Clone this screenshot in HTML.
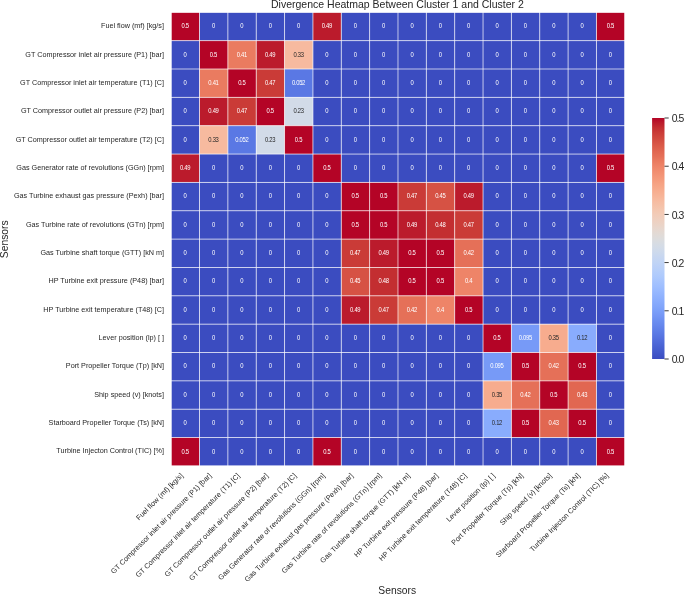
<!DOCTYPE html><html><head><meta charset="utf-8"><style>
html,body{margin:0;padding:0;background:#fff;}
body{width:685px;height:595px;overflow:hidden;position:relative;}
svg{position:absolute;left:0;top:0;will-change:transform;filter:blur(0.3px);}
text{font-family:"Liberation Sans",sans-serif;}
</style></head><body>
<svg width="685" height="595" viewBox="0 0 685 595">
<defs><linearGradient id="cb" x1="0" y1="1" x2="0" y2="0">
<stop offset="0.000" stop-color="#3b4cc0"/>
<stop offset="0.020" stop-color="#4055c8"/>
<stop offset="0.040" stop-color="#465ecf"/>
<stop offset="0.060" stop-color="#4c66d6"/>
<stop offset="0.080" stop-color="#536edd"/>
<stop offset="0.100" stop-color="#5977e3"/>
<stop offset="0.120" stop-color="#5f7fe8"/>
<stop offset="0.140" stop-color="#6687ed"/>
<stop offset="0.160" stop-color="#6c8ff1"/>
<stop offset="0.180" stop-color="#7597f6"/>
<stop offset="0.200" stop-color="#7b9ff9"/>
<stop offset="0.220" stop-color="#82a6fb"/>
<stop offset="0.240" stop-color="#89acfd"/>
<stop offset="0.260" stop-color="#90b2fe"/>
<stop offset="0.280" stop-color="#97b8ff"/>
<stop offset="0.300" stop-color="#9ebeff"/>
<stop offset="0.320" stop-color="#a5c3fe"/>
<stop offset="0.340" stop-color="#adc9fd"/>
<stop offset="0.360" stop-color="#b3cdfb"/>
<stop offset="0.380" stop-color="#bad0f8"/>
<stop offset="0.400" stop-color="#c0d4f5"/>
<stop offset="0.420" stop-color="#c6d6f1"/>
<stop offset="0.440" stop-color="#ccd9ed"/>
<stop offset="0.460" stop-color="#d2dbe8"/>
<stop offset="0.480" stop-color="#d7dce3"/>
<stop offset="0.500" stop-color="#dddcdc"/>
<stop offset="0.520" stop-color="#e2dad5"/>
<stop offset="0.540" stop-color="#e7d7ce"/>
<stop offset="0.560" stop-color="#ebd3c6"/>
<stop offset="0.580" stop-color="#efcfbf"/>
<stop offset="0.600" stop-color="#f2cbb7"/>
<stop offset="0.620" stop-color="#f4c6af"/>
<stop offset="0.640" stop-color="#f5c0a7"/>
<stop offset="0.660" stop-color="#f7ba9f"/>
<stop offset="0.680" stop-color="#f7b396"/>
<stop offset="0.700" stop-color="#f7ac8e"/>
<stop offset="0.720" stop-color="#f6a586"/>
<stop offset="0.740" stop-color="#f59d7e"/>
<stop offset="0.760" stop-color="#f39577"/>
<stop offset="0.780" stop-color="#f18d6f"/>
<stop offset="0.800" stop-color="#ee8468"/>
<stop offset="0.820" stop-color="#ea7b60"/>
<stop offset="0.840" stop-color="#e57058"/>
<stop offset="0.860" stop-color="#e16751"/>
<stop offset="0.880" stop-color="#dc5d4a"/>
<stop offset="0.900" stop-color="#d65244"/>
<stop offset="0.920" stop-color="#d0473d"/>
<stop offset="0.940" stop-color="#ca3b37"/>
<stop offset="0.960" stop-color="#c32e31"/>
<stop offset="0.980" stop-color="#bb1b2c"/>
<stop offset="1.000" stop-color="#b40426"/>
</linearGradient></defs>
<text x="397.40" y="7.90" font-size="10.50" fill="#262626" text-anchor="middle">Divergence Heatmap Between Cluster 1 and Cluster 2</text>
<rect x="171.18" y="12.30" width="28.37" height="28.37" fill="#b40426"/>
<rect x="199.53" y="12.30" width="28.37" height="28.37" fill="#3b4cc0"/>
<rect x="227.88" y="12.30" width="28.37" height="28.37" fill="#3b4cc0"/>
<rect x="256.23" y="12.30" width="28.37" height="28.37" fill="#3b4cc0"/>
<rect x="284.58" y="12.30" width="28.37" height="28.37" fill="#3b4cc0"/>
<rect x="312.93" y="12.30" width="28.37" height="28.37" fill="#bb1b2c"/>
<rect x="341.28" y="12.30" width="28.37" height="28.37" fill="#3b4cc0"/>
<rect x="369.63" y="12.30" width="28.37" height="28.37" fill="#3b4cc0"/>
<rect x="397.98" y="12.30" width="28.37" height="28.37" fill="#3b4cc0"/>
<rect x="426.33" y="12.30" width="28.37" height="28.37" fill="#3b4cc0"/>
<rect x="454.68" y="12.30" width="28.37" height="28.37" fill="#3b4cc0"/>
<rect x="483.03" y="12.30" width="28.37" height="28.37" fill="#3b4cc0"/>
<rect x="511.38" y="12.30" width="28.37" height="28.37" fill="#3b4cc0"/>
<rect x="539.73" y="12.30" width="28.37" height="28.37" fill="#3b4cc0"/>
<rect x="568.08" y="12.30" width="28.37" height="28.37" fill="#3b4cc0"/>
<rect x="596.43" y="12.30" width="28.37" height="28.37" fill="#b40426"/>
<rect x="171.18" y="40.65" width="28.37" height="28.37" fill="#3b4cc0"/>
<rect x="199.53" y="40.65" width="28.37" height="28.37" fill="#b40426"/>
<rect x="227.88" y="40.65" width="28.37" height="28.37" fill="#ea7b60"/>
<rect x="256.23" y="40.65" width="28.37" height="28.37" fill="#bb1b2c"/>
<rect x="284.58" y="40.65" width="28.37" height="28.37" fill="#f7ba9f"/>
<rect x="312.93" y="40.65" width="28.37" height="28.37" fill="#3b4cc0"/>
<rect x="341.28" y="40.65" width="28.37" height="28.37" fill="#3b4cc0"/>
<rect x="369.63" y="40.65" width="28.37" height="28.37" fill="#3b4cc0"/>
<rect x="397.98" y="40.65" width="28.37" height="28.37" fill="#3b4cc0"/>
<rect x="426.33" y="40.65" width="28.37" height="28.37" fill="#3b4cc0"/>
<rect x="454.68" y="40.65" width="28.37" height="28.37" fill="#3b4cc0"/>
<rect x="483.03" y="40.65" width="28.37" height="28.37" fill="#3b4cc0"/>
<rect x="511.38" y="40.65" width="28.37" height="28.37" fill="#3b4cc0"/>
<rect x="539.73" y="40.65" width="28.37" height="28.37" fill="#3b4cc0"/>
<rect x="568.08" y="40.65" width="28.37" height="28.37" fill="#3b4cc0"/>
<rect x="596.43" y="40.65" width="28.37" height="28.37" fill="#3b4cc0"/>
<rect x="171.18" y="69.00" width="28.37" height="28.37" fill="#3b4cc0"/>
<rect x="199.53" y="69.00" width="28.37" height="28.37" fill="#ea7b60"/>
<rect x="227.88" y="69.00" width="28.37" height="28.37" fill="#b40426"/>
<rect x="256.23" y="69.00" width="28.37" height="28.37" fill="#ca3b37"/>
<rect x="284.58" y="69.00" width="28.37" height="28.37" fill="#5a78e4"/>
<rect x="312.93" y="69.00" width="28.37" height="28.37" fill="#3b4cc0"/>
<rect x="341.28" y="69.00" width="28.37" height="28.37" fill="#3b4cc0"/>
<rect x="369.63" y="69.00" width="28.37" height="28.37" fill="#3b4cc0"/>
<rect x="397.98" y="69.00" width="28.37" height="28.37" fill="#3b4cc0"/>
<rect x="426.33" y="69.00" width="28.37" height="28.37" fill="#3b4cc0"/>
<rect x="454.68" y="69.00" width="28.37" height="28.37" fill="#3b4cc0"/>
<rect x="483.03" y="69.00" width="28.37" height="28.37" fill="#3b4cc0"/>
<rect x="511.38" y="69.00" width="28.37" height="28.37" fill="#3b4cc0"/>
<rect x="539.73" y="69.00" width="28.37" height="28.37" fill="#3b4cc0"/>
<rect x="568.08" y="69.00" width="28.37" height="28.37" fill="#3b4cc0"/>
<rect x="596.43" y="69.00" width="28.37" height="28.37" fill="#3b4cc0"/>
<rect x="171.18" y="97.35" width="28.37" height="28.37" fill="#3b4cc0"/>
<rect x="199.53" y="97.35" width="28.37" height="28.37" fill="#bb1b2c"/>
<rect x="227.88" y="97.35" width="28.37" height="28.37" fill="#ca3b37"/>
<rect x="256.23" y="97.35" width="28.37" height="28.37" fill="#b40426"/>
<rect x="284.58" y="97.35" width="28.37" height="28.37" fill="#d2dbe8"/>
<rect x="312.93" y="97.35" width="28.37" height="28.37" fill="#3b4cc0"/>
<rect x="341.28" y="97.35" width="28.37" height="28.37" fill="#3b4cc0"/>
<rect x="369.63" y="97.35" width="28.37" height="28.37" fill="#3b4cc0"/>
<rect x="397.98" y="97.35" width="28.37" height="28.37" fill="#3b4cc0"/>
<rect x="426.33" y="97.35" width="28.37" height="28.37" fill="#3b4cc0"/>
<rect x="454.68" y="97.35" width="28.37" height="28.37" fill="#3b4cc0"/>
<rect x="483.03" y="97.35" width="28.37" height="28.37" fill="#3b4cc0"/>
<rect x="511.38" y="97.35" width="28.37" height="28.37" fill="#3b4cc0"/>
<rect x="539.73" y="97.35" width="28.37" height="28.37" fill="#3b4cc0"/>
<rect x="568.08" y="97.35" width="28.37" height="28.37" fill="#3b4cc0"/>
<rect x="596.43" y="97.35" width="28.37" height="28.37" fill="#3b4cc0"/>
<rect x="171.18" y="125.70" width="28.37" height="28.37" fill="#3b4cc0"/>
<rect x="199.53" y="125.70" width="28.37" height="28.37" fill="#f7ba9f"/>
<rect x="227.88" y="125.70" width="28.37" height="28.37" fill="#5a78e4"/>
<rect x="256.23" y="125.70" width="28.37" height="28.37" fill="#d2dbe8"/>
<rect x="284.58" y="125.70" width="28.37" height="28.37" fill="#b40426"/>
<rect x="312.93" y="125.70" width="28.37" height="28.37" fill="#3b4cc0"/>
<rect x="341.28" y="125.70" width="28.37" height="28.37" fill="#3b4cc0"/>
<rect x="369.63" y="125.70" width="28.37" height="28.37" fill="#3b4cc0"/>
<rect x="397.98" y="125.70" width="28.37" height="28.37" fill="#3b4cc0"/>
<rect x="426.33" y="125.70" width="28.37" height="28.37" fill="#3b4cc0"/>
<rect x="454.68" y="125.70" width="28.37" height="28.37" fill="#3b4cc0"/>
<rect x="483.03" y="125.70" width="28.37" height="28.37" fill="#3b4cc0"/>
<rect x="511.38" y="125.70" width="28.37" height="28.37" fill="#3b4cc0"/>
<rect x="539.73" y="125.70" width="28.37" height="28.37" fill="#3b4cc0"/>
<rect x="568.08" y="125.70" width="28.37" height="28.37" fill="#3b4cc0"/>
<rect x="596.43" y="125.70" width="28.37" height="28.37" fill="#3b4cc0"/>
<rect x="171.18" y="154.05" width="28.37" height="28.37" fill="#bb1b2c"/>
<rect x="199.53" y="154.05" width="28.37" height="28.37" fill="#3b4cc0"/>
<rect x="227.88" y="154.05" width="28.37" height="28.37" fill="#3b4cc0"/>
<rect x="256.23" y="154.05" width="28.37" height="28.37" fill="#3b4cc0"/>
<rect x="284.58" y="154.05" width="28.37" height="28.37" fill="#3b4cc0"/>
<rect x="312.93" y="154.05" width="28.37" height="28.37" fill="#b40426"/>
<rect x="341.28" y="154.05" width="28.37" height="28.37" fill="#3b4cc0"/>
<rect x="369.63" y="154.05" width="28.37" height="28.37" fill="#3b4cc0"/>
<rect x="397.98" y="154.05" width="28.37" height="28.37" fill="#3b4cc0"/>
<rect x="426.33" y="154.05" width="28.37" height="28.37" fill="#3b4cc0"/>
<rect x="454.68" y="154.05" width="28.37" height="28.37" fill="#3b4cc0"/>
<rect x="483.03" y="154.05" width="28.37" height="28.37" fill="#3b4cc0"/>
<rect x="511.38" y="154.05" width="28.37" height="28.37" fill="#3b4cc0"/>
<rect x="539.73" y="154.05" width="28.37" height="28.37" fill="#3b4cc0"/>
<rect x="568.08" y="154.05" width="28.37" height="28.37" fill="#3b4cc0"/>
<rect x="596.43" y="154.05" width="28.37" height="28.37" fill="#b40426"/>
<rect x="171.18" y="182.40" width="28.37" height="28.37" fill="#3b4cc0"/>
<rect x="199.53" y="182.40" width="28.37" height="28.37" fill="#3b4cc0"/>
<rect x="227.88" y="182.40" width="28.37" height="28.37" fill="#3b4cc0"/>
<rect x="256.23" y="182.40" width="28.37" height="28.37" fill="#3b4cc0"/>
<rect x="284.58" y="182.40" width="28.37" height="28.37" fill="#3b4cc0"/>
<rect x="312.93" y="182.40" width="28.37" height="28.37" fill="#3b4cc0"/>
<rect x="341.28" y="182.40" width="28.37" height="28.37" fill="#b40426"/>
<rect x="369.63" y="182.40" width="28.37" height="28.37" fill="#b40426"/>
<rect x="397.98" y="182.40" width="28.37" height="28.37" fill="#ca3b37"/>
<rect x="426.33" y="182.40" width="28.37" height="28.37" fill="#d65244"/>
<rect x="454.68" y="182.40" width="28.37" height="28.37" fill="#bb1b2c"/>
<rect x="483.03" y="182.40" width="28.37" height="28.37" fill="#3b4cc0"/>
<rect x="511.38" y="182.40" width="28.37" height="28.37" fill="#3b4cc0"/>
<rect x="539.73" y="182.40" width="28.37" height="28.37" fill="#3b4cc0"/>
<rect x="568.08" y="182.40" width="28.37" height="28.37" fill="#3b4cc0"/>
<rect x="596.43" y="182.40" width="28.37" height="28.37" fill="#3b4cc0"/>
<rect x="171.18" y="210.75" width="28.37" height="28.37" fill="#3b4cc0"/>
<rect x="199.53" y="210.75" width="28.37" height="28.37" fill="#3b4cc0"/>
<rect x="227.88" y="210.75" width="28.37" height="28.37" fill="#3b4cc0"/>
<rect x="256.23" y="210.75" width="28.37" height="28.37" fill="#3b4cc0"/>
<rect x="284.58" y="210.75" width="28.37" height="28.37" fill="#3b4cc0"/>
<rect x="312.93" y="210.75" width="28.37" height="28.37" fill="#3b4cc0"/>
<rect x="341.28" y="210.75" width="28.37" height="28.37" fill="#b40426"/>
<rect x="369.63" y="210.75" width="28.37" height="28.37" fill="#b40426"/>
<rect x="397.98" y="210.75" width="28.37" height="28.37" fill="#bb1b2c"/>
<rect x="426.33" y="210.75" width="28.37" height="28.37" fill="#c32e31"/>
<rect x="454.68" y="210.75" width="28.37" height="28.37" fill="#ca3b37"/>
<rect x="483.03" y="210.75" width="28.37" height="28.37" fill="#3b4cc0"/>
<rect x="511.38" y="210.75" width="28.37" height="28.37" fill="#3b4cc0"/>
<rect x="539.73" y="210.75" width="28.37" height="28.37" fill="#3b4cc0"/>
<rect x="568.08" y="210.75" width="28.37" height="28.37" fill="#3b4cc0"/>
<rect x="596.43" y="210.75" width="28.37" height="28.37" fill="#3b4cc0"/>
<rect x="171.18" y="239.10" width="28.37" height="28.37" fill="#3b4cc0"/>
<rect x="199.53" y="239.10" width="28.37" height="28.37" fill="#3b4cc0"/>
<rect x="227.88" y="239.10" width="28.37" height="28.37" fill="#3b4cc0"/>
<rect x="256.23" y="239.10" width="28.37" height="28.37" fill="#3b4cc0"/>
<rect x="284.58" y="239.10" width="28.37" height="28.37" fill="#3b4cc0"/>
<rect x="312.93" y="239.10" width="28.37" height="28.37" fill="#3b4cc0"/>
<rect x="341.28" y="239.10" width="28.37" height="28.37" fill="#ca3b37"/>
<rect x="369.63" y="239.10" width="28.37" height="28.37" fill="#bb1b2c"/>
<rect x="397.98" y="239.10" width="28.37" height="28.37" fill="#b40426"/>
<rect x="426.33" y="239.10" width="28.37" height="28.37" fill="#b40426"/>
<rect x="454.68" y="239.10" width="28.37" height="28.37" fill="#e57058"/>
<rect x="483.03" y="239.10" width="28.37" height="28.37" fill="#3b4cc0"/>
<rect x="511.38" y="239.10" width="28.37" height="28.37" fill="#3b4cc0"/>
<rect x="539.73" y="239.10" width="28.37" height="28.37" fill="#3b4cc0"/>
<rect x="568.08" y="239.10" width="28.37" height="28.37" fill="#3b4cc0"/>
<rect x="596.43" y="239.10" width="28.37" height="28.37" fill="#3b4cc0"/>
<rect x="171.18" y="267.45" width="28.37" height="28.37" fill="#3b4cc0"/>
<rect x="199.53" y="267.45" width="28.37" height="28.37" fill="#3b4cc0"/>
<rect x="227.88" y="267.45" width="28.37" height="28.37" fill="#3b4cc0"/>
<rect x="256.23" y="267.45" width="28.37" height="28.37" fill="#3b4cc0"/>
<rect x="284.58" y="267.45" width="28.37" height="28.37" fill="#3b4cc0"/>
<rect x="312.93" y="267.45" width="28.37" height="28.37" fill="#3b4cc0"/>
<rect x="341.28" y="267.45" width="28.37" height="28.37" fill="#d65244"/>
<rect x="369.63" y="267.45" width="28.37" height="28.37" fill="#c32e31"/>
<rect x="397.98" y="267.45" width="28.37" height="28.37" fill="#b40426"/>
<rect x="426.33" y="267.45" width="28.37" height="28.37" fill="#b40426"/>
<rect x="454.68" y="267.45" width="28.37" height="28.37" fill="#ee8468"/>
<rect x="483.03" y="267.45" width="28.37" height="28.37" fill="#3b4cc0"/>
<rect x="511.38" y="267.45" width="28.37" height="28.37" fill="#3b4cc0"/>
<rect x="539.73" y="267.45" width="28.37" height="28.37" fill="#3b4cc0"/>
<rect x="568.08" y="267.45" width="28.37" height="28.37" fill="#3b4cc0"/>
<rect x="596.43" y="267.45" width="28.37" height="28.37" fill="#3b4cc0"/>
<rect x="171.18" y="295.80" width="28.37" height="28.37" fill="#3b4cc0"/>
<rect x="199.53" y="295.80" width="28.37" height="28.37" fill="#3b4cc0"/>
<rect x="227.88" y="295.80" width="28.37" height="28.37" fill="#3b4cc0"/>
<rect x="256.23" y="295.80" width="28.37" height="28.37" fill="#3b4cc0"/>
<rect x="284.58" y="295.80" width="28.37" height="28.37" fill="#3b4cc0"/>
<rect x="312.93" y="295.80" width="28.37" height="28.37" fill="#3b4cc0"/>
<rect x="341.28" y="295.80" width="28.37" height="28.37" fill="#bb1b2c"/>
<rect x="369.63" y="295.80" width="28.37" height="28.37" fill="#ca3b37"/>
<rect x="397.98" y="295.80" width="28.37" height="28.37" fill="#e57058"/>
<rect x="426.33" y="295.80" width="28.37" height="28.37" fill="#ee8468"/>
<rect x="454.68" y="295.80" width="28.37" height="28.37" fill="#b40426"/>
<rect x="483.03" y="295.80" width="28.37" height="28.37" fill="#3b4cc0"/>
<rect x="511.38" y="295.80" width="28.37" height="28.37" fill="#3b4cc0"/>
<rect x="539.73" y="295.80" width="28.37" height="28.37" fill="#3b4cc0"/>
<rect x="568.08" y="295.80" width="28.37" height="28.37" fill="#3b4cc0"/>
<rect x="596.43" y="295.80" width="28.37" height="28.37" fill="#3b4cc0"/>
<rect x="171.18" y="324.15" width="28.37" height="28.37" fill="#3b4cc0"/>
<rect x="199.53" y="324.15" width="28.37" height="28.37" fill="#3b4cc0"/>
<rect x="227.88" y="324.15" width="28.37" height="28.37" fill="#3b4cc0"/>
<rect x="256.23" y="324.15" width="28.37" height="28.37" fill="#3b4cc0"/>
<rect x="284.58" y="324.15" width="28.37" height="28.37" fill="#3b4cc0"/>
<rect x="312.93" y="324.15" width="28.37" height="28.37" fill="#3b4cc0"/>
<rect x="341.28" y="324.15" width="28.37" height="28.37" fill="#3b4cc0"/>
<rect x="369.63" y="324.15" width="28.37" height="28.37" fill="#3b4cc0"/>
<rect x="397.98" y="324.15" width="28.37" height="28.37" fill="#3b4cc0"/>
<rect x="426.33" y="324.15" width="28.37" height="28.37" fill="#3b4cc0"/>
<rect x="454.68" y="324.15" width="28.37" height="28.37" fill="#3b4cc0"/>
<rect x="483.03" y="324.15" width="28.37" height="28.37" fill="#b40426"/>
<rect x="511.38" y="324.15" width="28.37" height="28.37" fill="#779af7"/>
<rect x="539.73" y="324.15" width="28.37" height="28.37" fill="#f7ac8e"/>
<rect x="568.08" y="324.15" width="28.37" height="28.37" fill="#89acfd"/>
<rect x="596.43" y="324.15" width="28.37" height="28.37" fill="#3b4cc0"/>
<rect x="171.18" y="352.50" width="28.37" height="28.37" fill="#3b4cc0"/>
<rect x="199.53" y="352.50" width="28.37" height="28.37" fill="#3b4cc0"/>
<rect x="227.88" y="352.50" width="28.37" height="28.37" fill="#3b4cc0"/>
<rect x="256.23" y="352.50" width="28.37" height="28.37" fill="#3b4cc0"/>
<rect x="284.58" y="352.50" width="28.37" height="28.37" fill="#3b4cc0"/>
<rect x="312.93" y="352.50" width="28.37" height="28.37" fill="#3b4cc0"/>
<rect x="341.28" y="352.50" width="28.37" height="28.37" fill="#3b4cc0"/>
<rect x="369.63" y="352.50" width="28.37" height="28.37" fill="#3b4cc0"/>
<rect x="397.98" y="352.50" width="28.37" height="28.37" fill="#3b4cc0"/>
<rect x="426.33" y="352.50" width="28.37" height="28.37" fill="#3b4cc0"/>
<rect x="454.68" y="352.50" width="28.37" height="28.37" fill="#3b4cc0"/>
<rect x="483.03" y="352.50" width="28.37" height="28.37" fill="#779af7"/>
<rect x="511.38" y="352.50" width="28.37" height="28.37" fill="#b40426"/>
<rect x="539.73" y="352.50" width="28.37" height="28.37" fill="#e57058"/>
<rect x="568.08" y="352.50" width="28.37" height="28.37" fill="#b40426"/>
<rect x="596.43" y="352.50" width="28.37" height="28.37" fill="#3b4cc0"/>
<rect x="171.18" y="380.85" width="28.37" height="28.37" fill="#3b4cc0"/>
<rect x="199.53" y="380.85" width="28.37" height="28.37" fill="#3b4cc0"/>
<rect x="227.88" y="380.85" width="28.37" height="28.37" fill="#3b4cc0"/>
<rect x="256.23" y="380.85" width="28.37" height="28.37" fill="#3b4cc0"/>
<rect x="284.58" y="380.85" width="28.37" height="28.37" fill="#3b4cc0"/>
<rect x="312.93" y="380.85" width="28.37" height="28.37" fill="#3b4cc0"/>
<rect x="341.28" y="380.85" width="28.37" height="28.37" fill="#3b4cc0"/>
<rect x="369.63" y="380.85" width="28.37" height="28.37" fill="#3b4cc0"/>
<rect x="397.98" y="380.85" width="28.37" height="28.37" fill="#3b4cc0"/>
<rect x="426.33" y="380.85" width="28.37" height="28.37" fill="#3b4cc0"/>
<rect x="454.68" y="380.85" width="28.37" height="28.37" fill="#3b4cc0"/>
<rect x="483.03" y="380.85" width="28.37" height="28.37" fill="#f7ac8e"/>
<rect x="511.38" y="380.85" width="28.37" height="28.37" fill="#e57058"/>
<rect x="539.73" y="380.85" width="28.37" height="28.37" fill="#b40426"/>
<rect x="568.08" y="380.85" width="28.37" height="28.37" fill="#e16751"/>
<rect x="596.43" y="380.85" width="28.37" height="28.37" fill="#3b4cc0"/>
<rect x="171.18" y="409.20" width="28.37" height="28.37" fill="#3b4cc0"/>
<rect x="199.53" y="409.20" width="28.37" height="28.37" fill="#3b4cc0"/>
<rect x="227.88" y="409.20" width="28.37" height="28.37" fill="#3b4cc0"/>
<rect x="256.23" y="409.20" width="28.37" height="28.37" fill="#3b4cc0"/>
<rect x="284.58" y="409.20" width="28.37" height="28.37" fill="#3b4cc0"/>
<rect x="312.93" y="409.20" width="28.37" height="28.37" fill="#3b4cc0"/>
<rect x="341.28" y="409.20" width="28.37" height="28.37" fill="#3b4cc0"/>
<rect x="369.63" y="409.20" width="28.37" height="28.37" fill="#3b4cc0"/>
<rect x="397.98" y="409.20" width="28.37" height="28.37" fill="#3b4cc0"/>
<rect x="426.33" y="409.20" width="28.37" height="28.37" fill="#3b4cc0"/>
<rect x="454.68" y="409.20" width="28.37" height="28.37" fill="#3b4cc0"/>
<rect x="483.03" y="409.20" width="28.37" height="28.37" fill="#89acfd"/>
<rect x="511.38" y="409.20" width="28.37" height="28.37" fill="#b40426"/>
<rect x="539.73" y="409.20" width="28.37" height="28.37" fill="#e16751"/>
<rect x="568.08" y="409.20" width="28.37" height="28.37" fill="#b40426"/>
<rect x="596.43" y="409.20" width="28.37" height="28.37" fill="#3b4cc0"/>
<rect x="171.18" y="437.55" width="28.37" height="28.37" fill="#b40426"/>
<rect x="199.53" y="437.55" width="28.37" height="28.37" fill="#3b4cc0"/>
<rect x="227.88" y="437.55" width="28.37" height="28.37" fill="#3b4cc0"/>
<rect x="256.23" y="437.55" width="28.37" height="28.37" fill="#3b4cc0"/>
<rect x="284.58" y="437.55" width="28.37" height="28.37" fill="#3b4cc0"/>
<rect x="312.93" y="437.55" width="28.37" height="28.37" fill="#b40426"/>
<rect x="341.28" y="437.55" width="28.37" height="28.37" fill="#3b4cc0"/>
<rect x="369.63" y="437.55" width="28.37" height="28.37" fill="#3b4cc0"/>
<rect x="397.98" y="437.55" width="28.37" height="28.37" fill="#3b4cc0"/>
<rect x="426.33" y="437.55" width="28.37" height="28.37" fill="#3b4cc0"/>
<rect x="454.68" y="437.55" width="28.37" height="28.37" fill="#3b4cc0"/>
<rect x="483.03" y="437.55" width="28.37" height="28.37" fill="#3b4cc0"/>
<rect x="511.38" y="437.55" width="28.37" height="28.37" fill="#3b4cc0"/>
<rect x="539.73" y="437.55" width="28.37" height="28.37" fill="#3b4cc0"/>
<rect x="568.08" y="437.55" width="28.37" height="28.37" fill="#3b4cc0"/>
<rect x="596.43" y="437.55" width="28.37" height="28.37" fill="#b40426"/>
<rect x="170.73" y="11.85" width="0.90" height="454.50" fill="#fff" fill-opacity="1.00"/>
<rect x="199.08" y="11.85" width="0.90" height="454.50" fill="#fff" fill-opacity="0.75"/>
<rect x="227.43" y="11.85" width="0.90" height="454.50" fill="#fff" fill-opacity="0.75"/>
<rect x="255.78" y="11.85" width="0.90" height="454.50" fill="#fff" fill-opacity="0.75"/>
<rect x="284.13" y="11.85" width="0.90" height="454.50" fill="#fff" fill-opacity="0.75"/>
<rect x="312.48" y="11.85" width="0.90" height="454.50" fill="#fff" fill-opacity="0.75"/>
<rect x="340.83" y="11.85" width="0.90" height="454.50" fill="#fff" fill-opacity="0.75"/>
<rect x="369.18" y="11.85" width="0.90" height="454.50" fill="#fff" fill-opacity="0.75"/>
<rect x="397.53" y="11.85" width="0.90" height="454.50" fill="#fff" fill-opacity="0.75"/>
<rect x="425.88" y="11.85" width="0.90" height="454.50" fill="#fff" fill-opacity="0.75"/>
<rect x="454.23" y="11.85" width="0.90" height="454.50" fill="#fff" fill-opacity="0.75"/>
<rect x="482.58" y="11.85" width="0.90" height="454.50" fill="#fff" fill-opacity="0.75"/>
<rect x="510.93" y="11.85" width="0.90" height="454.50" fill="#fff" fill-opacity="0.75"/>
<rect x="539.28" y="11.85" width="0.90" height="454.50" fill="#fff" fill-opacity="0.75"/>
<rect x="567.63" y="11.85" width="0.90" height="454.50" fill="#fff" fill-opacity="0.75"/>
<rect x="595.98" y="11.85" width="0.90" height="454.50" fill="#fff" fill-opacity="0.75"/>
<rect x="624.33" y="11.85" width="0.90" height="454.50" fill="#fff" fill-opacity="1.00"/>
<rect x="170.73" y="11.85" width="454.50" height="0.90" fill="#fff" fill-opacity="1.00"/>
<rect x="170.73" y="40.20" width="454.50" height="0.90" fill="#fff" fill-opacity="0.75"/>
<rect x="170.73" y="68.55" width="454.50" height="0.90" fill="#fff" fill-opacity="0.75"/>
<rect x="170.73" y="96.90" width="454.50" height="0.90" fill="#fff" fill-opacity="0.75"/>
<rect x="170.73" y="125.25" width="454.50" height="0.90" fill="#fff" fill-opacity="0.75"/>
<rect x="170.73" y="153.60" width="454.50" height="0.90" fill="#fff" fill-opacity="0.75"/>
<rect x="170.73" y="181.95" width="454.50" height="0.90" fill="#fff" fill-opacity="0.75"/>
<rect x="170.73" y="210.30" width="454.50" height="0.90" fill="#fff" fill-opacity="0.75"/>
<rect x="170.73" y="238.65" width="454.50" height="0.90" fill="#fff" fill-opacity="0.75"/>
<rect x="170.73" y="267.00" width="454.50" height="0.90" fill="#fff" fill-opacity="0.75"/>
<rect x="170.73" y="295.35" width="454.50" height="0.90" fill="#fff" fill-opacity="0.75"/>
<rect x="170.73" y="323.70" width="454.50" height="0.90" fill="#fff" fill-opacity="0.75"/>
<rect x="170.73" y="352.05" width="454.50" height="0.90" fill="#fff" fill-opacity="0.75"/>
<rect x="170.73" y="380.40" width="454.50" height="0.90" fill="#fff" fill-opacity="0.75"/>
<rect x="170.73" y="408.75" width="454.50" height="0.90" fill="#fff" fill-opacity="0.75"/>
<rect x="170.73" y="437.10" width="454.50" height="0.90" fill="#fff" fill-opacity="0.75"/>
<rect x="170.73" y="465.45" width="454.50" height="0.90" fill="#fff" fill-opacity="1.00"/>
<text transform="translate(185.09 28.28) scale(0.8400 1)" font-size="7.00" fill="#ffffff" text-anchor="middle" letter-spacing="-0.36">0.5</text>
<text transform="translate(213.44 28.28) scale(0.8400 1)" font-size="7.00" fill="#ffffff" text-anchor="middle" letter-spacing="-0.36">0</text>
<text transform="translate(241.78 28.28) scale(0.8400 1)" font-size="7.00" fill="#ffffff" text-anchor="middle" letter-spacing="-0.36">0</text>
<text transform="translate(270.14 28.28) scale(0.8400 1)" font-size="7.00" fill="#ffffff" text-anchor="middle" letter-spacing="-0.36">0</text>
<text transform="translate(298.49 28.28) scale(0.8400 1)" font-size="7.00" fill="#ffffff" text-anchor="middle" letter-spacing="-0.36">0</text>
<text transform="translate(326.84 28.28) scale(0.8400 1)" font-size="7.00" fill="#ffffff" text-anchor="middle" letter-spacing="-0.36">0.49</text>
<text transform="translate(355.19 28.28) scale(0.8400 1)" font-size="7.00" fill="#ffffff" text-anchor="middle" letter-spacing="-0.36">0</text>
<text transform="translate(383.54 28.28) scale(0.8400 1)" font-size="7.00" fill="#ffffff" text-anchor="middle" letter-spacing="-0.36">0</text>
<text transform="translate(411.89 28.28) scale(0.8400 1)" font-size="7.00" fill="#ffffff" text-anchor="middle" letter-spacing="-0.36">0</text>
<text transform="translate(440.24 28.28) scale(0.8400 1)" font-size="7.00" fill="#ffffff" text-anchor="middle" letter-spacing="-0.36">0</text>
<text transform="translate(468.59 28.28) scale(0.8400 1)" font-size="7.00" fill="#ffffff" text-anchor="middle" letter-spacing="-0.36">0</text>
<text transform="translate(496.94 28.28) scale(0.8400 1)" font-size="7.00" fill="#ffffff" text-anchor="middle" letter-spacing="-0.36">0</text>
<text transform="translate(525.29 28.28) scale(0.8400 1)" font-size="7.00" fill="#ffffff" text-anchor="middle" letter-spacing="-0.36">0</text>
<text transform="translate(553.63 28.28) scale(0.8400 1)" font-size="7.00" fill="#ffffff" text-anchor="middle" letter-spacing="-0.36">0</text>
<text transform="translate(581.99 28.28) scale(0.8400 1)" font-size="7.00" fill="#ffffff" text-anchor="middle" letter-spacing="-0.36">0</text>
<text transform="translate(610.34 28.28) scale(0.8400 1)" font-size="7.00" fill="#ffffff" text-anchor="middle" letter-spacing="-0.36">0.5</text>
<text transform="translate(185.09 56.63) scale(0.8400 1)" font-size="7.00" fill="#ffffff" text-anchor="middle" letter-spacing="-0.36">0</text>
<text transform="translate(213.44 56.63) scale(0.8400 1)" font-size="7.00" fill="#ffffff" text-anchor="middle" letter-spacing="-0.36">0.5</text>
<text transform="translate(241.78 56.63) scale(0.8400 1)" font-size="7.00" fill="#ffffff" text-anchor="middle" letter-spacing="-0.36">0.41</text>
<text transform="translate(270.14 56.63) scale(0.8400 1)" font-size="7.00" fill="#ffffff" text-anchor="middle" letter-spacing="-0.36">0.49</text>
<text transform="translate(298.49 56.63) scale(0.8400 1)" font-size="7.00" fill="#262626" text-anchor="middle" letter-spacing="-0.36">0.33</text>
<text transform="translate(326.84 56.63) scale(0.8400 1)" font-size="7.00" fill="#ffffff" text-anchor="middle" letter-spacing="-0.36">0</text>
<text transform="translate(355.19 56.63) scale(0.8400 1)" font-size="7.00" fill="#ffffff" text-anchor="middle" letter-spacing="-0.36">0</text>
<text transform="translate(383.54 56.63) scale(0.8400 1)" font-size="7.00" fill="#ffffff" text-anchor="middle" letter-spacing="-0.36">0</text>
<text transform="translate(411.89 56.63) scale(0.8400 1)" font-size="7.00" fill="#ffffff" text-anchor="middle" letter-spacing="-0.36">0</text>
<text transform="translate(440.24 56.63) scale(0.8400 1)" font-size="7.00" fill="#ffffff" text-anchor="middle" letter-spacing="-0.36">0</text>
<text transform="translate(468.59 56.63) scale(0.8400 1)" font-size="7.00" fill="#ffffff" text-anchor="middle" letter-spacing="-0.36">0</text>
<text transform="translate(496.94 56.63) scale(0.8400 1)" font-size="7.00" fill="#ffffff" text-anchor="middle" letter-spacing="-0.36">0</text>
<text transform="translate(525.29 56.63) scale(0.8400 1)" font-size="7.00" fill="#ffffff" text-anchor="middle" letter-spacing="-0.36">0</text>
<text transform="translate(553.63 56.63) scale(0.8400 1)" font-size="7.00" fill="#ffffff" text-anchor="middle" letter-spacing="-0.36">0</text>
<text transform="translate(581.99 56.63) scale(0.8400 1)" font-size="7.00" fill="#ffffff" text-anchor="middle" letter-spacing="-0.36">0</text>
<text transform="translate(610.34 56.63) scale(0.8400 1)" font-size="7.00" fill="#ffffff" text-anchor="middle" letter-spacing="-0.36">0</text>
<text transform="translate(185.09 84.97) scale(0.8400 1)" font-size="7.00" fill="#ffffff" text-anchor="middle" letter-spacing="-0.36">0</text>
<text transform="translate(213.44 84.97) scale(0.8400 1)" font-size="7.00" fill="#ffffff" text-anchor="middle" letter-spacing="-0.36">0.41</text>
<text transform="translate(241.78 84.97) scale(0.8400 1)" font-size="7.00" fill="#ffffff" text-anchor="middle" letter-spacing="-0.36">0.5</text>
<text transform="translate(270.14 84.97) scale(0.8400 1)" font-size="7.00" fill="#ffffff" text-anchor="middle" letter-spacing="-0.36">0.47</text>
<text transform="translate(298.49 84.97) scale(0.8400 1)" font-size="7.00" fill="#ffffff" text-anchor="middle" letter-spacing="-0.36">0.052</text>
<text transform="translate(326.84 84.97) scale(0.8400 1)" font-size="7.00" fill="#ffffff" text-anchor="middle" letter-spacing="-0.36">0</text>
<text transform="translate(355.19 84.97) scale(0.8400 1)" font-size="7.00" fill="#ffffff" text-anchor="middle" letter-spacing="-0.36">0</text>
<text transform="translate(383.54 84.97) scale(0.8400 1)" font-size="7.00" fill="#ffffff" text-anchor="middle" letter-spacing="-0.36">0</text>
<text transform="translate(411.89 84.97) scale(0.8400 1)" font-size="7.00" fill="#ffffff" text-anchor="middle" letter-spacing="-0.36">0</text>
<text transform="translate(440.24 84.97) scale(0.8400 1)" font-size="7.00" fill="#ffffff" text-anchor="middle" letter-spacing="-0.36">0</text>
<text transform="translate(468.59 84.97) scale(0.8400 1)" font-size="7.00" fill="#ffffff" text-anchor="middle" letter-spacing="-0.36">0</text>
<text transform="translate(496.94 84.97) scale(0.8400 1)" font-size="7.00" fill="#ffffff" text-anchor="middle" letter-spacing="-0.36">0</text>
<text transform="translate(525.29 84.97) scale(0.8400 1)" font-size="7.00" fill="#ffffff" text-anchor="middle" letter-spacing="-0.36">0</text>
<text transform="translate(553.63 84.97) scale(0.8400 1)" font-size="7.00" fill="#ffffff" text-anchor="middle" letter-spacing="-0.36">0</text>
<text transform="translate(581.99 84.97) scale(0.8400 1)" font-size="7.00" fill="#ffffff" text-anchor="middle" letter-spacing="-0.36">0</text>
<text transform="translate(610.34 84.97) scale(0.8400 1)" font-size="7.00" fill="#ffffff" text-anchor="middle" letter-spacing="-0.36">0</text>
<text transform="translate(185.09 113.33) scale(0.8400 1)" font-size="7.00" fill="#ffffff" text-anchor="middle" letter-spacing="-0.36">0</text>
<text transform="translate(213.44 113.33) scale(0.8400 1)" font-size="7.00" fill="#ffffff" text-anchor="middle" letter-spacing="-0.36">0.49</text>
<text transform="translate(241.78 113.33) scale(0.8400 1)" font-size="7.00" fill="#ffffff" text-anchor="middle" letter-spacing="-0.36">0.47</text>
<text transform="translate(270.14 113.33) scale(0.8400 1)" font-size="7.00" fill="#ffffff" text-anchor="middle" letter-spacing="-0.36">0.5</text>
<text transform="translate(298.49 113.33) scale(0.8400 1)" font-size="7.00" fill="#262626" text-anchor="middle" letter-spacing="-0.36">0.23</text>
<text transform="translate(326.84 113.33) scale(0.8400 1)" font-size="7.00" fill="#ffffff" text-anchor="middle" letter-spacing="-0.36">0</text>
<text transform="translate(355.19 113.33) scale(0.8400 1)" font-size="7.00" fill="#ffffff" text-anchor="middle" letter-spacing="-0.36">0</text>
<text transform="translate(383.54 113.33) scale(0.8400 1)" font-size="7.00" fill="#ffffff" text-anchor="middle" letter-spacing="-0.36">0</text>
<text transform="translate(411.89 113.33) scale(0.8400 1)" font-size="7.00" fill="#ffffff" text-anchor="middle" letter-spacing="-0.36">0</text>
<text transform="translate(440.24 113.33) scale(0.8400 1)" font-size="7.00" fill="#ffffff" text-anchor="middle" letter-spacing="-0.36">0</text>
<text transform="translate(468.59 113.33) scale(0.8400 1)" font-size="7.00" fill="#ffffff" text-anchor="middle" letter-spacing="-0.36">0</text>
<text transform="translate(496.94 113.33) scale(0.8400 1)" font-size="7.00" fill="#ffffff" text-anchor="middle" letter-spacing="-0.36">0</text>
<text transform="translate(525.29 113.33) scale(0.8400 1)" font-size="7.00" fill="#ffffff" text-anchor="middle" letter-spacing="-0.36">0</text>
<text transform="translate(553.63 113.33) scale(0.8400 1)" font-size="7.00" fill="#ffffff" text-anchor="middle" letter-spacing="-0.36">0</text>
<text transform="translate(581.99 113.33) scale(0.8400 1)" font-size="7.00" fill="#ffffff" text-anchor="middle" letter-spacing="-0.36">0</text>
<text transform="translate(610.34 113.33) scale(0.8400 1)" font-size="7.00" fill="#ffffff" text-anchor="middle" letter-spacing="-0.36">0</text>
<text transform="translate(185.09 141.67) scale(0.8400 1)" font-size="7.00" fill="#ffffff" text-anchor="middle" letter-spacing="-0.36">0</text>
<text transform="translate(213.44 141.67) scale(0.8400 1)" font-size="7.00" fill="#262626" text-anchor="middle" letter-spacing="-0.36">0.33</text>
<text transform="translate(241.78 141.67) scale(0.8400 1)" font-size="7.00" fill="#ffffff" text-anchor="middle" letter-spacing="-0.36">0.052</text>
<text transform="translate(270.14 141.67) scale(0.8400 1)" font-size="7.00" fill="#262626" text-anchor="middle" letter-spacing="-0.36">0.23</text>
<text transform="translate(298.49 141.67) scale(0.8400 1)" font-size="7.00" fill="#ffffff" text-anchor="middle" letter-spacing="-0.36">0.5</text>
<text transform="translate(326.84 141.67) scale(0.8400 1)" font-size="7.00" fill="#ffffff" text-anchor="middle" letter-spacing="-0.36">0</text>
<text transform="translate(355.19 141.67) scale(0.8400 1)" font-size="7.00" fill="#ffffff" text-anchor="middle" letter-spacing="-0.36">0</text>
<text transform="translate(383.54 141.67) scale(0.8400 1)" font-size="7.00" fill="#ffffff" text-anchor="middle" letter-spacing="-0.36">0</text>
<text transform="translate(411.89 141.67) scale(0.8400 1)" font-size="7.00" fill="#ffffff" text-anchor="middle" letter-spacing="-0.36">0</text>
<text transform="translate(440.24 141.67) scale(0.8400 1)" font-size="7.00" fill="#ffffff" text-anchor="middle" letter-spacing="-0.36">0</text>
<text transform="translate(468.59 141.67) scale(0.8400 1)" font-size="7.00" fill="#ffffff" text-anchor="middle" letter-spacing="-0.36">0</text>
<text transform="translate(496.94 141.67) scale(0.8400 1)" font-size="7.00" fill="#ffffff" text-anchor="middle" letter-spacing="-0.36">0</text>
<text transform="translate(525.29 141.67) scale(0.8400 1)" font-size="7.00" fill="#ffffff" text-anchor="middle" letter-spacing="-0.36">0</text>
<text transform="translate(553.63 141.67) scale(0.8400 1)" font-size="7.00" fill="#ffffff" text-anchor="middle" letter-spacing="-0.36">0</text>
<text transform="translate(581.99 141.67) scale(0.8400 1)" font-size="7.00" fill="#ffffff" text-anchor="middle" letter-spacing="-0.36">0</text>
<text transform="translate(610.34 141.67) scale(0.8400 1)" font-size="7.00" fill="#ffffff" text-anchor="middle" letter-spacing="-0.36">0</text>
<text transform="translate(185.09 170.03) scale(0.8400 1)" font-size="7.00" fill="#ffffff" text-anchor="middle" letter-spacing="-0.36">0.49</text>
<text transform="translate(213.44 170.03) scale(0.8400 1)" font-size="7.00" fill="#ffffff" text-anchor="middle" letter-spacing="-0.36">0</text>
<text transform="translate(241.78 170.03) scale(0.8400 1)" font-size="7.00" fill="#ffffff" text-anchor="middle" letter-spacing="-0.36">0</text>
<text transform="translate(270.14 170.03) scale(0.8400 1)" font-size="7.00" fill="#ffffff" text-anchor="middle" letter-spacing="-0.36">0</text>
<text transform="translate(298.49 170.03) scale(0.8400 1)" font-size="7.00" fill="#ffffff" text-anchor="middle" letter-spacing="-0.36">0</text>
<text transform="translate(326.84 170.03) scale(0.8400 1)" font-size="7.00" fill="#ffffff" text-anchor="middle" letter-spacing="-0.36">0.5</text>
<text transform="translate(355.19 170.03) scale(0.8400 1)" font-size="7.00" fill="#ffffff" text-anchor="middle" letter-spacing="-0.36">0</text>
<text transform="translate(383.54 170.03) scale(0.8400 1)" font-size="7.00" fill="#ffffff" text-anchor="middle" letter-spacing="-0.36">0</text>
<text transform="translate(411.89 170.03) scale(0.8400 1)" font-size="7.00" fill="#ffffff" text-anchor="middle" letter-spacing="-0.36">0</text>
<text transform="translate(440.24 170.03) scale(0.8400 1)" font-size="7.00" fill="#ffffff" text-anchor="middle" letter-spacing="-0.36">0</text>
<text transform="translate(468.59 170.03) scale(0.8400 1)" font-size="7.00" fill="#ffffff" text-anchor="middle" letter-spacing="-0.36">0</text>
<text transform="translate(496.94 170.03) scale(0.8400 1)" font-size="7.00" fill="#ffffff" text-anchor="middle" letter-spacing="-0.36">0</text>
<text transform="translate(525.29 170.03) scale(0.8400 1)" font-size="7.00" fill="#ffffff" text-anchor="middle" letter-spacing="-0.36">0</text>
<text transform="translate(553.63 170.03) scale(0.8400 1)" font-size="7.00" fill="#ffffff" text-anchor="middle" letter-spacing="-0.36">0</text>
<text transform="translate(581.99 170.03) scale(0.8400 1)" font-size="7.00" fill="#ffffff" text-anchor="middle" letter-spacing="-0.36">0</text>
<text transform="translate(610.34 170.03) scale(0.8400 1)" font-size="7.00" fill="#ffffff" text-anchor="middle" letter-spacing="-0.36">0.5</text>
<text transform="translate(185.09 198.38) scale(0.8400 1)" font-size="7.00" fill="#ffffff" text-anchor="middle" letter-spacing="-0.36">0</text>
<text transform="translate(213.44 198.38) scale(0.8400 1)" font-size="7.00" fill="#ffffff" text-anchor="middle" letter-spacing="-0.36">0</text>
<text transform="translate(241.78 198.38) scale(0.8400 1)" font-size="7.00" fill="#ffffff" text-anchor="middle" letter-spacing="-0.36">0</text>
<text transform="translate(270.14 198.38) scale(0.8400 1)" font-size="7.00" fill="#ffffff" text-anchor="middle" letter-spacing="-0.36">0</text>
<text transform="translate(298.49 198.38) scale(0.8400 1)" font-size="7.00" fill="#ffffff" text-anchor="middle" letter-spacing="-0.36">0</text>
<text transform="translate(326.84 198.38) scale(0.8400 1)" font-size="7.00" fill="#ffffff" text-anchor="middle" letter-spacing="-0.36">0</text>
<text transform="translate(355.19 198.38) scale(0.8400 1)" font-size="7.00" fill="#ffffff" text-anchor="middle" letter-spacing="-0.36">0.5</text>
<text transform="translate(383.54 198.38) scale(0.8400 1)" font-size="7.00" fill="#ffffff" text-anchor="middle" letter-spacing="-0.36">0.5</text>
<text transform="translate(411.89 198.38) scale(0.8400 1)" font-size="7.00" fill="#ffffff" text-anchor="middle" letter-spacing="-0.36">0.47</text>
<text transform="translate(440.24 198.38) scale(0.8400 1)" font-size="7.00" fill="#ffffff" text-anchor="middle" letter-spacing="-0.36">0.45</text>
<text transform="translate(468.59 198.38) scale(0.8400 1)" font-size="7.00" fill="#ffffff" text-anchor="middle" letter-spacing="-0.36">0.49</text>
<text transform="translate(496.94 198.38) scale(0.8400 1)" font-size="7.00" fill="#ffffff" text-anchor="middle" letter-spacing="-0.36">0</text>
<text transform="translate(525.29 198.38) scale(0.8400 1)" font-size="7.00" fill="#ffffff" text-anchor="middle" letter-spacing="-0.36">0</text>
<text transform="translate(553.63 198.38) scale(0.8400 1)" font-size="7.00" fill="#ffffff" text-anchor="middle" letter-spacing="-0.36">0</text>
<text transform="translate(581.99 198.38) scale(0.8400 1)" font-size="7.00" fill="#ffffff" text-anchor="middle" letter-spacing="-0.36">0</text>
<text transform="translate(610.34 198.38) scale(0.8400 1)" font-size="7.00" fill="#ffffff" text-anchor="middle" letter-spacing="-0.36">0</text>
<text transform="translate(185.09 226.72) scale(0.8400 1)" font-size="7.00" fill="#ffffff" text-anchor="middle" letter-spacing="-0.36">0</text>
<text transform="translate(213.44 226.72) scale(0.8400 1)" font-size="7.00" fill="#ffffff" text-anchor="middle" letter-spacing="-0.36">0</text>
<text transform="translate(241.78 226.72) scale(0.8400 1)" font-size="7.00" fill="#ffffff" text-anchor="middle" letter-spacing="-0.36">0</text>
<text transform="translate(270.14 226.72) scale(0.8400 1)" font-size="7.00" fill="#ffffff" text-anchor="middle" letter-spacing="-0.36">0</text>
<text transform="translate(298.49 226.72) scale(0.8400 1)" font-size="7.00" fill="#ffffff" text-anchor="middle" letter-spacing="-0.36">0</text>
<text transform="translate(326.84 226.72) scale(0.8400 1)" font-size="7.00" fill="#ffffff" text-anchor="middle" letter-spacing="-0.36">0</text>
<text transform="translate(355.19 226.72) scale(0.8400 1)" font-size="7.00" fill="#ffffff" text-anchor="middle" letter-spacing="-0.36">0.5</text>
<text transform="translate(383.54 226.72) scale(0.8400 1)" font-size="7.00" fill="#ffffff" text-anchor="middle" letter-spacing="-0.36">0.5</text>
<text transform="translate(411.89 226.72) scale(0.8400 1)" font-size="7.00" fill="#ffffff" text-anchor="middle" letter-spacing="-0.36">0.49</text>
<text transform="translate(440.24 226.72) scale(0.8400 1)" font-size="7.00" fill="#ffffff" text-anchor="middle" letter-spacing="-0.36">0.48</text>
<text transform="translate(468.59 226.72) scale(0.8400 1)" font-size="7.00" fill="#ffffff" text-anchor="middle" letter-spacing="-0.36">0.47</text>
<text transform="translate(496.94 226.72) scale(0.8400 1)" font-size="7.00" fill="#ffffff" text-anchor="middle" letter-spacing="-0.36">0</text>
<text transform="translate(525.29 226.72) scale(0.8400 1)" font-size="7.00" fill="#ffffff" text-anchor="middle" letter-spacing="-0.36">0</text>
<text transform="translate(553.63 226.72) scale(0.8400 1)" font-size="7.00" fill="#ffffff" text-anchor="middle" letter-spacing="-0.36">0</text>
<text transform="translate(581.99 226.72) scale(0.8400 1)" font-size="7.00" fill="#ffffff" text-anchor="middle" letter-spacing="-0.36">0</text>
<text transform="translate(610.34 226.72) scale(0.8400 1)" font-size="7.00" fill="#ffffff" text-anchor="middle" letter-spacing="-0.36">0</text>
<text transform="translate(185.09 255.08) scale(0.8400 1)" font-size="7.00" fill="#ffffff" text-anchor="middle" letter-spacing="-0.36">0</text>
<text transform="translate(213.44 255.08) scale(0.8400 1)" font-size="7.00" fill="#ffffff" text-anchor="middle" letter-spacing="-0.36">0</text>
<text transform="translate(241.78 255.08) scale(0.8400 1)" font-size="7.00" fill="#ffffff" text-anchor="middle" letter-spacing="-0.36">0</text>
<text transform="translate(270.14 255.08) scale(0.8400 1)" font-size="7.00" fill="#ffffff" text-anchor="middle" letter-spacing="-0.36">0</text>
<text transform="translate(298.49 255.08) scale(0.8400 1)" font-size="7.00" fill="#ffffff" text-anchor="middle" letter-spacing="-0.36">0</text>
<text transform="translate(326.84 255.08) scale(0.8400 1)" font-size="7.00" fill="#ffffff" text-anchor="middle" letter-spacing="-0.36">0</text>
<text transform="translate(355.19 255.08) scale(0.8400 1)" font-size="7.00" fill="#ffffff" text-anchor="middle" letter-spacing="-0.36">0.47</text>
<text transform="translate(383.54 255.08) scale(0.8400 1)" font-size="7.00" fill="#ffffff" text-anchor="middle" letter-spacing="-0.36">0.49</text>
<text transform="translate(411.89 255.08) scale(0.8400 1)" font-size="7.00" fill="#ffffff" text-anchor="middle" letter-spacing="-0.36">0.5</text>
<text transform="translate(440.24 255.08) scale(0.8400 1)" font-size="7.00" fill="#ffffff" text-anchor="middle" letter-spacing="-0.36">0.5</text>
<text transform="translate(468.59 255.08) scale(0.8400 1)" font-size="7.00" fill="#ffffff" text-anchor="middle" letter-spacing="-0.36">0.42</text>
<text transform="translate(496.94 255.08) scale(0.8400 1)" font-size="7.00" fill="#ffffff" text-anchor="middle" letter-spacing="-0.36">0</text>
<text transform="translate(525.29 255.08) scale(0.8400 1)" font-size="7.00" fill="#ffffff" text-anchor="middle" letter-spacing="-0.36">0</text>
<text transform="translate(553.63 255.08) scale(0.8400 1)" font-size="7.00" fill="#ffffff" text-anchor="middle" letter-spacing="-0.36">0</text>
<text transform="translate(581.99 255.08) scale(0.8400 1)" font-size="7.00" fill="#ffffff" text-anchor="middle" letter-spacing="-0.36">0</text>
<text transform="translate(610.34 255.08) scale(0.8400 1)" font-size="7.00" fill="#ffffff" text-anchor="middle" letter-spacing="-0.36">0</text>
<text transform="translate(185.09 283.43) scale(0.8400 1)" font-size="7.00" fill="#ffffff" text-anchor="middle" letter-spacing="-0.36">0</text>
<text transform="translate(213.44 283.43) scale(0.8400 1)" font-size="7.00" fill="#ffffff" text-anchor="middle" letter-spacing="-0.36">0</text>
<text transform="translate(241.78 283.43) scale(0.8400 1)" font-size="7.00" fill="#ffffff" text-anchor="middle" letter-spacing="-0.36">0</text>
<text transform="translate(270.14 283.43) scale(0.8400 1)" font-size="7.00" fill="#ffffff" text-anchor="middle" letter-spacing="-0.36">0</text>
<text transform="translate(298.49 283.43) scale(0.8400 1)" font-size="7.00" fill="#ffffff" text-anchor="middle" letter-spacing="-0.36">0</text>
<text transform="translate(326.84 283.43) scale(0.8400 1)" font-size="7.00" fill="#ffffff" text-anchor="middle" letter-spacing="-0.36">0</text>
<text transform="translate(355.19 283.43) scale(0.8400 1)" font-size="7.00" fill="#ffffff" text-anchor="middle" letter-spacing="-0.36">0.45</text>
<text transform="translate(383.54 283.43) scale(0.8400 1)" font-size="7.00" fill="#ffffff" text-anchor="middle" letter-spacing="-0.36">0.48</text>
<text transform="translate(411.89 283.43) scale(0.8400 1)" font-size="7.00" fill="#ffffff" text-anchor="middle" letter-spacing="-0.36">0.5</text>
<text transform="translate(440.24 283.43) scale(0.8400 1)" font-size="7.00" fill="#ffffff" text-anchor="middle" letter-spacing="-0.36">0.5</text>
<text transform="translate(468.59 283.43) scale(0.8400 1)" font-size="7.00" fill="#ffffff" text-anchor="middle" letter-spacing="-0.36">0.4</text>
<text transform="translate(496.94 283.43) scale(0.8400 1)" font-size="7.00" fill="#ffffff" text-anchor="middle" letter-spacing="-0.36">0</text>
<text transform="translate(525.29 283.43) scale(0.8400 1)" font-size="7.00" fill="#ffffff" text-anchor="middle" letter-spacing="-0.36">0</text>
<text transform="translate(553.63 283.43) scale(0.8400 1)" font-size="7.00" fill="#ffffff" text-anchor="middle" letter-spacing="-0.36">0</text>
<text transform="translate(581.99 283.43) scale(0.8400 1)" font-size="7.00" fill="#ffffff" text-anchor="middle" letter-spacing="-0.36">0</text>
<text transform="translate(610.34 283.43) scale(0.8400 1)" font-size="7.00" fill="#ffffff" text-anchor="middle" letter-spacing="-0.36">0</text>
<text transform="translate(185.09 311.78) scale(0.8400 1)" font-size="7.00" fill="#ffffff" text-anchor="middle" letter-spacing="-0.36">0</text>
<text transform="translate(213.44 311.78) scale(0.8400 1)" font-size="7.00" fill="#ffffff" text-anchor="middle" letter-spacing="-0.36">0</text>
<text transform="translate(241.78 311.78) scale(0.8400 1)" font-size="7.00" fill="#ffffff" text-anchor="middle" letter-spacing="-0.36">0</text>
<text transform="translate(270.14 311.78) scale(0.8400 1)" font-size="7.00" fill="#ffffff" text-anchor="middle" letter-spacing="-0.36">0</text>
<text transform="translate(298.49 311.78) scale(0.8400 1)" font-size="7.00" fill="#ffffff" text-anchor="middle" letter-spacing="-0.36">0</text>
<text transform="translate(326.84 311.78) scale(0.8400 1)" font-size="7.00" fill="#ffffff" text-anchor="middle" letter-spacing="-0.36">0</text>
<text transform="translate(355.19 311.78) scale(0.8400 1)" font-size="7.00" fill="#ffffff" text-anchor="middle" letter-spacing="-0.36">0.49</text>
<text transform="translate(383.54 311.78) scale(0.8400 1)" font-size="7.00" fill="#ffffff" text-anchor="middle" letter-spacing="-0.36">0.47</text>
<text transform="translate(411.89 311.78) scale(0.8400 1)" font-size="7.00" fill="#ffffff" text-anchor="middle" letter-spacing="-0.36">0.42</text>
<text transform="translate(440.24 311.78) scale(0.8400 1)" font-size="7.00" fill="#ffffff" text-anchor="middle" letter-spacing="-0.36">0.4</text>
<text transform="translate(468.59 311.78) scale(0.8400 1)" font-size="7.00" fill="#ffffff" text-anchor="middle" letter-spacing="-0.36">0.5</text>
<text transform="translate(496.94 311.78) scale(0.8400 1)" font-size="7.00" fill="#ffffff" text-anchor="middle" letter-spacing="-0.36">0</text>
<text transform="translate(525.29 311.78) scale(0.8400 1)" font-size="7.00" fill="#ffffff" text-anchor="middle" letter-spacing="-0.36">0</text>
<text transform="translate(553.63 311.78) scale(0.8400 1)" font-size="7.00" fill="#ffffff" text-anchor="middle" letter-spacing="-0.36">0</text>
<text transform="translate(581.99 311.78) scale(0.8400 1)" font-size="7.00" fill="#ffffff" text-anchor="middle" letter-spacing="-0.36">0</text>
<text transform="translate(610.34 311.78) scale(0.8400 1)" font-size="7.00" fill="#ffffff" text-anchor="middle" letter-spacing="-0.36">0</text>
<text transform="translate(185.09 340.13) scale(0.8400 1)" font-size="7.00" fill="#ffffff" text-anchor="middle" letter-spacing="-0.36">0</text>
<text transform="translate(213.44 340.13) scale(0.8400 1)" font-size="7.00" fill="#ffffff" text-anchor="middle" letter-spacing="-0.36">0</text>
<text transform="translate(241.78 340.13) scale(0.8400 1)" font-size="7.00" fill="#ffffff" text-anchor="middle" letter-spacing="-0.36">0</text>
<text transform="translate(270.14 340.13) scale(0.8400 1)" font-size="7.00" fill="#ffffff" text-anchor="middle" letter-spacing="-0.36">0</text>
<text transform="translate(298.49 340.13) scale(0.8400 1)" font-size="7.00" fill="#ffffff" text-anchor="middle" letter-spacing="-0.36">0</text>
<text transform="translate(326.84 340.13) scale(0.8400 1)" font-size="7.00" fill="#ffffff" text-anchor="middle" letter-spacing="-0.36">0</text>
<text transform="translate(355.19 340.13) scale(0.8400 1)" font-size="7.00" fill="#ffffff" text-anchor="middle" letter-spacing="-0.36">0</text>
<text transform="translate(383.54 340.13) scale(0.8400 1)" font-size="7.00" fill="#ffffff" text-anchor="middle" letter-spacing="-0.36">0</text>
<text transform="translate(411.89 340.13) scale(0.8400 1)" font-size="7.00" fill="#ffffff" text-anchor="middle" letter-spacing="-0.36">0</text>
<text transform="translate(440.24 340.13) scale(0.8400 1)" font-size="7.00" fill="#ffffff" text-anchor="middle" letter-spacing="-0.36">0</text>
<text transform="translate(468.59 340.13) scale(0.8400 1)" font-size="7.00" fill="#ffffff" text-anchor="middle" letter-spacing="-0.36">0</text>
<text transform="translate(496.94 340.13) scale(0.8400 1)" font-size="7.00" fill="#ffffff" text-anchor="middle" letter-spacing="-0.36">0.5</text>
<text transform="translate(525.29 340.13) scale(0.8400 1)" font-size="7.00" fill="#ffffff" text-anchor="middle" letter-spacing="-0.36">0.095</text>
<text transform="translate(553.63 340.13) scale(0.8400 1)" font-size="7.00" fill="#262626" text-anchor="middle" letter-spacing="-0.36">0.35</text>
<text transform="translate(581.99 340.13) scale(0.8400 1)" font-size="7.00" fill="#262626" text-anchor="middle" letter-spacing="-0.36">0.12</text>
<text transform="translate(610.34 340.13) scale(0.8400 1)" font-size="7.00" fill="#ffffff" text-anchor="middle" letter-spacing="-0.36">0</text>
<text transform="translate(185.09 368.48) scale(0.8400 1)" font-size="7.00" fill="#ffffff" text-anchor="middle" letter-spacing="-0.36">0</text>
<text transform="translate(213.44 368.48) scale(0.8400 1)" font-size="7.00" fill="#ffffff" text-anchor="middle" letter-spacing="-0.36">0</text>
<text transform="translate(241.78 368.48) scale(0.8400 1)" font-size="7.00" fill="#ffffff" text-anchor="middle" letter-spacing="-0.36">0</text>
<text transform="translate(270.14 368.48) scale(0.8400 1)" font-size="7.00" fill="#ffffff" text-anchor="middle" letter-spacing="-0.36">0</text>
<text transform="translate(298.49 368.48) scale(0.8400 1)" font-size="7.00" fill="#ffffff" text-anchor="middle" letter-spacing="-0.36">0</text>
<text transform="translate(326.84 368.48) scale(0.8400 1)" font-size="7.00" fill="#ffffff" text-anchor="middle" letter-spacing="-0.36">0</text>
<text transform="translate(355.19 368.48) scale(0.8400 1)" font-size="7.00" fill="#ffffff" text-anchor="middle" letter-spacing="-0.36">0</text>
<text transform="translate(383.54 368.48) scale(0.8400 1)" font-size="7.00" fill="#ffffff" text-anchor="middle" letter-spacing="-0.36">0</text>
<text transform="translate(411.89 368.48) scale(0.8400 1)" font-size="7.00" fill="#ffffff" text-anchor="middle" letter-spacing="-0.36">0</text>
<text transform="translate(440.24 368.48) scale(0.8400 1)" font-size="7.00" fill="#ffffff" text-anchor="middle" letter-spacing="-0.36">0</text>
<text transform="translate(468.59 368.48) scale(0.8400 1)" font-size="7.00" fill="#ffffff" text-anchor="middle" letter-spacing="-0.36">0</text>
<text transform="translate(496.94 368.48) scale(0.8400 1)" font-size="7.00" fill="#ffffff" text-anchor="middle" letter-spacing="-0.36">0.095</text>
<text transform="translate(525.29 368.48) scale(0.8400 1)" font-size="7.00" fill="#ffffff" text-anchor="middle" letter-spacing="-0.36">0.5</text>
<text transform="translate(553.63 368.48) scale(0.8400 1)" font-size="7.00" fill="#ffffff" text-anchor="middle" letter-spacing="-0.36">0.42</text>
<text transform="translate(581.99 368.48) scale(0.8400 1)" font-size="7.00" fill="#ffffff" text-anchor="middle" letter-spacing="-0.36">0.5</text>
<text transform="translate(610.34 368.48) scale(0.8400 1)" font-size="7.00" fill="#ffffff" text-anchor="middle" letter-spacing="-0.36">0</text>
<text transform="translate(185.09 396.83) scale(0.8400 1)" font-size="7.00" fill="#ffffff" text-anchor="middle" letter-spacing="-0.36">0</text>
<text transform="translate(213.44 396.83) scale(0.8400 1)" font-size="7.00" fill="#ffffff" text-anchor="middle" letter-spacing="-0.36">0</text>
<text transform="translate(241.78 396.83) scale(0.8400 1)" font-size="7.00" fill="#ffffff" text-anchor="middle" letter-spacing="-0.36">0</text>
<text transform="translate(270.14 396.83) scale(0.8400 1)" font-size="7.00" fill="#ffffff" text-anchor="middle" letter-spacing="-0.36">0</text>
<text transform="translate(298.49 396.83) scale(0.8400 1)" font-size="7.00" fill="#ffffff" text-anchor="middle" letter-spacing="-0.36">0</text>
<text transform="translate(326.84 396.83) scale(0.8400 1)" font-size="7.00" fill="#ffffff" text-anchor="middle" letter-spacing="-0.36">0</text>
<text transform="translate(355.19 396.83) scale(0.8400 1)" font-size="7.00" fill="#ffffff" text-anchor="middle" letter-spacing="-0.36">0</text>
<text transform="translate(383.54 396.83) scale(0.8400 1)" font-size="7.00" fill="#ffffff" text-anchor="middle" letter-spacing="-0.36">0</text>
<text transform="translate(411.89 396.83) scale(0.8400 1)" font-size="7.00" fill="#ffffff" text-anchor="middle" letter-spacing="-0.36">0</text>
<text transform="translate(440.24 396.83) scale(0.8400 1)" font-size="7.00" fill="#ffffff" text-anchor="middle" letter-spacing="-0.36">0</text>
<text transform="translate(468.59 396.83) scale(0.8400 1)" font-size="7.00" fill="#ffffff" text-anchor="middle" letter-spacing="-0.36">0</text>
<text transform="translate(496.94 396.83) scale(0.8400 1)" font-size="7.00" fill="#262626" text-anchor="middle" letter-spacing="-0.36">0.35</text>
<text transform="translate(525.29 396.83) scale(0.8400 1)" font-size="7.00" fill="#ffffff" text-anchor="middle" letter-spacing="-0.36">0.42</text>
<text transform="translate(553.63 396.83) scale(0.8400 1)" font-size="7.00" fill="#ffffff" text-anchor="middle" letter-spacing="-0.36">0.5</text>
<text transform="translate(581.99 396.83) scale(0.8400 1)" font-size="7.00" fill="#ffffff" text-anchor="middle" letter-spacing="-0.36">0.43</text>
<text transform="translate(610.34 396.83) scale(0.8400 1)" font-size="7.00" fill="#ffffff" text-anchor="middle" letter-spacing="-0.36">0</text>
<text transform="translate(185.09 425.18) scale(0.8400 1)" font-size="7.00" fill="#ffffff" text-anchor="middle" letter-spacing="-0.36">0</text>
<text transform="translate(213.44 425.18) scale(0.8400 1)" font-size="7.00" fill="#ffffff" text-anchor="middle" letter-spacing="-0.36">0</text>
<text transform="translate(241.78 425.18) scale(0.8400 1)" font-size="7.00" fill="#ffffff" text-anchor="middle" letter-spacing="-0.36">0</text>
<text transform="translate(270.14 425.18) scale(0.8400 1)" font-size="7.00" fill="#ffffff" text-anchor="middle" letter-spacing="-0.36">0</text>
<text transform="translate(298.49 425.18) scale(0.8400 1)" font-size="7.00" fill="#ffffff" text-anchor="middle" letter-spacing="-0.36">0</text>
<text transform="translate(326.84 425.18) scale(0.8400 1)" font-size="7.00" fill="#ffffff" text-anchor="middle" letter-spacing="-0.36">0</text>
<text transform="translate(355.19 425.18) scale(0.8400 1)" font-size="7.00" fill="#ffffff" text-anchor="middle" letter-spacing="-0.36">0</text>
<text transform="translate(383.54 425.18) scale(0.8400 1)" font-size="7.00" fill="#ffffff" text-anchor="middle" letter-spacing="-0.36">0</text>
<text transform="translate(411.89 425.18) scale(0.8400 1)" font-size="7.00" fill="#ffffff" text-anchor="middle" letter-spacing="-0.36">0</text>
<text transform="translate(440.24 425.18) scale(0.8400 1)" font-size="7.00" fill="#ffffff" text-anchor="middle" letter-spacing="-0.36">0</text>
<text transform="translate(468.59 425.18) scale(0.8400 1)" font-size="7.00" fill="#ffffff" text-anchor="middle" letter-spacing="-0.36">0</text>
<text transform="translate(496.94 425.18) scale(0.8400 1)" font-size="7.00" fill="#262626" text-anchor="middle" letter-spacing="-0.36">0.12</text>
<text transform="translate(525.29 425.18) scale(0.8400 1)" font-size="7.00" fill="#ffffff" text-anchor="middle" letter-spacing="-0.36">0.5</text>
<text transform="translate(553.63 425.18) scale(0.8400 1)" font-size="7.00" fill="#ffffff" text-anchor="middle" letter-spacing="-0.36">0.43</text>
<text transform="translate(581.99 425.18) scale(0.8400 1)" font-size="7.00" fill="#ffffff" text-anchor="middle" letter-spacing="-0.36">0.5</text>
<text transform="translate(610.34 425.18) scale(0.8400 1)" font-size="7.00" fill="#ffffff" text-anchor="middle" letter-spacing="-0.36">0</text>
<text transform="translate(185.09 453.53) scale(0.8400 1)" font-size="7.00" fill="#ffffff" text-anchor="middle" letter-spacing="-0.36">0.5</text>
<text transform="translate(213.44 453.53) scale(0.8400 1)" font-size="7.00" fill="#ffffff" text-anchor="middle" letter-spacing="-0.36">0</text>
<text transform="translate(241.78 453.53) scale(0.8400 1)" font-size="7.00" fill="#ffffff" text-anchor="middle" letter-spacing="-0.36">0</text>
<text transform="translate(270.14 453.53) scale(0.8400 1)" font-size="7.00" fill="#ffffff" text-anchor="middle" letter-spacing="-0.36">0</text>
<text transform="translate(298.49 453.53) scale(0.8400 1)" font-size="7.00" fill="#ffffff" text-anchor="middle" letter-spacing="-0.36">0</text>
<text transform="translate(326.84 453.53) scale(0.8400 1)" font-size="7.00" fill="#ffffff" text-anchor="middle" letter-spacing="-0.36">0.5</text>
<text transform="translate(355.19 453.53) scale(0.8400 1)" font-size="7.00" fill="#ffffff" text-anchor="middle" letter-spacing="-0.36">0</text>
<text transform="translate(383.54 453.53) scale(0.8400 1)" font-size="7.00" fill="#ffffff" text-anchor="middle" letter-spacing="-0.36">0</text>
<text transform="translate(411.89 453.53) scale(0.8400 1)" font-size="7.00" fill="#ffffff" text-anchor="middle" letter-spacing="-0.36">0</text>
<text transform="translate(440.24 453.53) scale(0.8400 1)" font-size="7.00" fill="#ffffff" text-anchor="middle" letter-spacing="-0.36">0</text>
<text transform="translate(468.59 453.53) scale(0.8400 1)" font-size="7.00" fill="#ffffff" text-anchor="middle" letter-spacing="-0.36">0</text>
<text transform="translate(496.94 453.53) scale(0.8400 1)" font-size="7.00" fill="#ffffff" text-anchor="middle" letter-spacing="-0.36">0</text>
<text transform="translate(525.29 453.53) scale(0.8400 1)" font-size="7.00" fill="#ffffff" text-anchor="middle" letter-spacing="-0.36">0</text>
<text transform="translate(553.63 453.53) scale(0.8400 1)" font-size="7.00" fill="#ffffff" text-anchor="middle" letter-spacing="-0.36">0</text>
<text transform="translate(581.99 453.53) scale(0.8400 1)" font-size="7.00" fill="#ffffff" text-anchor="middle" letter-spacing="-0.36">0</text>
<text transform="translate(610.34 453.53) scale(0.8400 1)" font-size="7.00" fill="#ffffff" text-anchor="middle" letter-spacing="-0.36">0.5</text>
<text transform="translate(164.00 28.17) scale(1.0000 1)" font-size="7.22" fill="#262626" text-anchor="end">Fuel flow (mf) [kg/s]</text>
<text transform="translate(164.00 56.52) scale(1.0000 1)" font-size="7.22" fill="#262626" text-anchor="end">GT Compressor inlet air pressure (P1) [bar]</text>
<text transform="translate(164.00 84.87) scale(1.0000 1)" font-size="7.22" fill="#262626" text-anchor="end">GT Compressor inlet air temperature (T1) [C]</text>
<text transform="translate(164.00 113.22) scale(1.0000 1)" font-size="7.22" fill="#262626" text-anchor="end">GT Compressor outlet air pressure (P2) [bar]</text>
<text transform="translate(164.00 141.57) scale(1.0000 1)" font-size="7.22" fill="#262626" text-anchor="end">GT Compressor outlet air temperature (T2) [C]</text>
<text transform="translate(164.00 169.92) scale(1.0000 1)" font-size="7.22" fill="#262626" text-anchor="end">Gas Generator rate of revolutions (GGn) [rpm]</text>
<text transform="translate(164.00 198.27) scale(1.0000 1)" font-size="7.22" fill="#262626" text-anchor="end">Gas Turbine exhaust gas pressure (Pexh) [bar]</text>
<text transform="translate(164.00 226.62) scale(1.0000 1)" font-size="7.22" fill="#262626" text-anchor="end">Gas Turbine rate of revolutions (GTn) [rpm]</text>
<text transform="translate(164.00 254.97) scale(1.0000 1)" font-size="7.22" fill="#262626" text-anchor="end">Gas Turbine shaft torque (GTT) [kN m]</text>
<text transform="translate(164.00 283.32) scale(1.0000 1)" font-size="7.22" fill="#262626" text-anchor="end">HP Turbine exit pressure (P48) [bar]</text>
<text transform="translate(164.00 311.67) scale(1.0000 1)" font-size="7.22" fill="#262626" text-anchor="end">HP Turbine exit temperature (T48) [C]</text>
<text transform="translate(164.00 340.02) scale(1.0000 1)" font-size="7.22" fill="#262626" text-anchor="end">Lever position (lp) [ ]</text>
<text transform="translate(164.00 368.37) scale(1.0000 1)" font-size="7.22" fill="#262626" text-anchor="end">Port Propeller Torque (Tp) [kN]</text>
<text transform="translate(164.00 396.72) scale(1.0000 1)" font-size="7.22" fill="#262626" text-anchor="end">Ship speed (v) [knots]</text>
<text transform="translate(164.00 425.07) scale(1.0000 1)" font-size="7.22" fill="#262626" text-anchor="end">Starboard Propeller Torque (Ts) [kN]</text>
<text transform="translate(164.00 453.42) scale(1.0000 1)" font-size="7.22" fill="#262626" text-anchor="end">Turbine Injecton Control (TIC) [%]</text>
<text transform="translate(183.56 476.10) rotate(-45) scale(1.0000 1)" font-size="7.22" fill="#262626" text-anchor="end">Fuel flow (mf) [kg/s]</text>
<text transform="translate(211.91 476.10) rotate(-45) scale(1.0000 1)" font-size="7.22" fill="#262626" text-anchor="end">GT Compressor inlet air pressure (P1) [bar]</text>
<text transform="translate(240.25 476.10) rotate(-45) scale(1.0000 1)" font-size="7.22" fill="#262626" text-anchor="end">GT Compressor inlet air temperature (T1) [C]</text>
<text transform="translate(268.61 476.10) rotate(-45) scale(1.0000 1)" font-size="7.22" fill="#262626" text-anchor="end">GT Compressor outlet air pressure (P2) [bar]</text>
<text transform="translate(296.95 476.10) rotate(-45) scale(1.0000 1)" font-size="7.22" fill="#262626" text-anchor="end">GT Compressor outlet air temperature (T2) [C]</text>
<text transform="translate(325.31 476.10) rotate(-45) scale(1.0000 1)" font-size="7.22" fill="#262626" text-anchor="end">Gas Generator rate of revolutions (GGn) [rpm]</text>
<text transform="translate(353.66 476.10) rotate(-45) scale(1.0000 1)" font-size="7.22" fill="#262626" text-anchor="end">Gas Turbine exhaust gas pressure (Pexh) [bar]</text>
<text transform="translate(382.00 476.10) rotate(-45) scale(1.0000 1)" font-size="7.22" fill="#262626" text-anchor="end">Gas Turbine rate of revolutions (GTn) [rpm]</text>
<text transform="translate(410.36 476.10) rotate(-45) scale(1.0000 1)" font-size="7.22" fill="#262626" text-anchor="end">Gas Turbine shaft torque (GTT) [kN m]</text>
<text transform="translate(438.70 476.10) rotate(-45) scale(1.0000 1)" font-size="7.22" fill="#262626" text-anchor="end">HP Turbine exit pressure (P48) [bar]</text>
<text transform="translate(467.06 476.10) rotate(-45) scale(1.0000 1)" font-size="7.22" fill="#262626" text-anchor="end">HP Turbine exit temperature (T48) [C]</text>
<text transform="translate(495.41 476.10) rotate(-45) scale(1.0000 1)" font-size="7.22" fill="#262626" text-anchor="end">Lever position (lp) [ ]</text>
<text transform="translate(523.76 476.10) rotate(-45) scale(1.0000 1)" font-size="7.22" fill="#262626" text-anchor="end">Port Propeller Torque (Tp) [kN]</text>
<text transform="translate(552.11 476.10) rotate(-45) scale(1.0000 1)" font-size="7.22" fill="#262626" text-anchor="end">Ship speed (v) [knots]</text>
<text transform="translate(580.46 476.10) rotate(-45) scale(1.0000 1)" font-size="7.22" fill="#262626" text-anchor="end">Starboard Propeller Torque (Ts) [kN]</text>
<text transform="translate(608.81 476.10) rotate(-45) scale(1.0000 1)" font-size="7.22" fill="#262626" text-anchor="end">Turbine Injecton Control (TIC) [%]</text>
<text x="397.23" y="593.60" font-size="10.30" fill="#262626" text-anchor="middle">Sensors</text>
<text transform="translate(8.10 239.30) rotate(-90)" font-size="10.30" fill="#262626" text-anchor="middle">Sensors</text>
<rect x="652.10" y="118.00" width="12.40" height="241.00" fill="url(#cb)"/>
<rect x="664.50" y="358.55" width="4.2" height="0.9" fill="#262626"/>
<text x="671.70" y="363.14" font-size="10.40" fill="#262626" letter-spacing="-0.9">0.0</text>
<rect x="664.50" y="310.35" width="4.2" height="0.9" fill="#262626"/>
<text x="671.70" y="314.94" font-size="10.40" fill="#262626" letter-spacing="-0.9">0.1</text>
<rect x="664.50" y="262.15" width="4.2" height="0.9" fill="#262626"/>
<text x="671.70" y="266.74" font-size="10.40" fill="#262626" letter-spacing="-0.9">0.2</text>
<rect x="664.50" y="213.95" width="4.2" height="0.9" fill="#262626"/>
<text x="671.70" y="218.54" font-size="10.40" fill="#262626" letter-spacing="-0.9">0.3</text>
<rect x="664.50" y="165.75" width="4.2" height="0.9" fill="#262626"/>
<text x="671.70" y="170.34" font-size="10.40" fill="#262626" letter-spacing="-0.9">0.4</text>
<rect x="664.50" y="117.55" width="4.2" height="0.9" fill="#262626"/>
<text x="671.70" y="122.14" font-size="10.40" fill="#262626" letter-spacing="-0.9">0.5</text>
</svg></body></html>
